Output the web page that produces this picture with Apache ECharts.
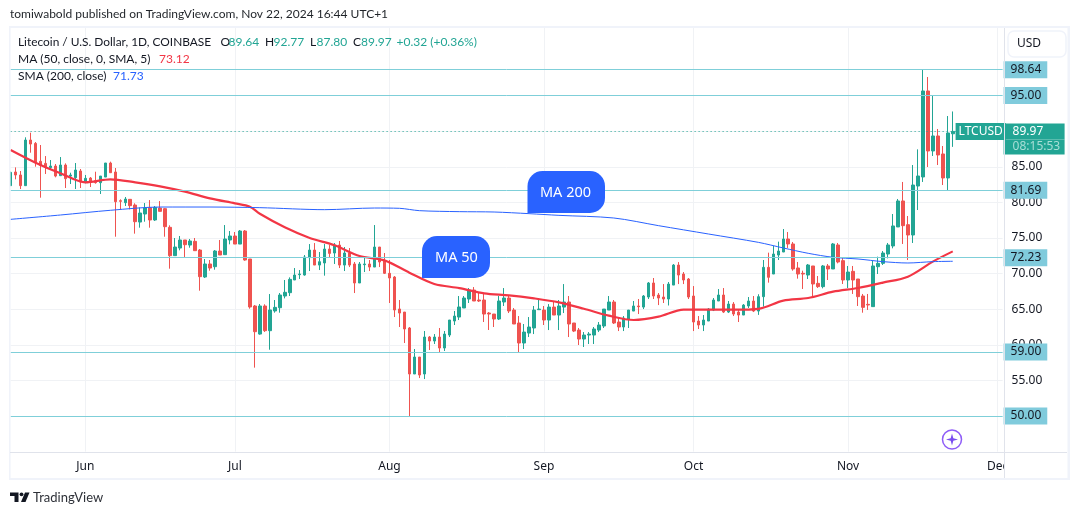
<!DOCTYPE html>
<html>
<head>
<meta charset="utf-8">
<title>LTCUSD</title>
<script src="https://cdn.jsdelivr.net/npm/echarts@6/dist/echarts.min.js"></script>
<style>
  html, body { margin: 0; padding: 0; background: #fff; }
  #chart { width: 1080px; height: 515px; }
</style>
</head>
<body>
<div id="chart"></div>
<script>
// daily candles, 17 May - 22 Nov 2024
const opens = [
  82.35, 84.27, 83.85, 82.35, 88.76, 88.29, 85.77, 85.48, 84.88, 85.11,
  83.75, 85.25, 83.7, 83.47, 84.41, 82.91, 83.42, 83.05, 82.77, 83.56,
  85.53, 84.27, 80.24, 79.96, 80.43, 79.63, 77.24, 78.37, 79.26, 77.53,
  79.21, 79.12, 76.5, 72.52, 73.59, 74.72, 74.01, 74.53, 73.31, 69.52,
  71.35, 70.97, 73.17, 72.66, 74.72, 75.28, 74.15, 75.98, 72.05, 65.45,
  61.51, 65.45, 61.98, 64.75, 65.21, 66.85, 67.32, 69.1, 69.85, 69.8,
  72.24, 73.31, 71.2, 71.49, 73.45, 72.89, 74.01, 71.2, 72.89, 71.35,
  68.68, 71.25, 71.35, 70.92, 73.73, 71.77, 70.04, 69.52, 65.03, 64.6,
  62.36, 55.9, 58.28, 55.9, 61.09, 60.53, 61.09, 59.55, 61.37, 63.34,
  63.9, 65.17, 66.43, 67.69, 66.29, 66.29, 64.46, 64.32, 63.62, 66.01,
  66.57, 64.88, 63.06, 60.25, 61.65, 62.36, 64.93, 64.88, 63.48, 65.3,
  64.18, 65.3, 66.01, 63.06, 62.07, 60.81, 61.37, 61.37, 62.07, 62.64,
  64.88, 66.01, 63.2, 62.5, 63.62, 64.74, 65.45, 65.3, 66.71, 68.68,
  66.99, 66.71, 66.43, 68.39, 71.2, 69.94, 69.24, 66.85, 63.34, 62.78,
  63.34, 64.88, 66.15, 66.99, 64.6, 65.72, 64.6, 64.18, 65.45, 66.15,
  64.74, 66.76, 70.88, 69.94, 72.61, 73.03, 74.86, 74.16, 70.79, 70.04,
  69.8, 71.07, 68.63, 68.17, 71.07, 70.65, 74.02, 71.82, 69.1, 70.32,
  69.24, 66.85, 65.68, 65.36, 70.97, 71.44, 72.75, 73.88, 76.55, 80.2,
  76.87, 75.42, 82.3, 83.57, 95.65, 87.22, 89.33, 86.8, 83.43, 89.64
];
const highs = [
  84.31, 84.92, 84.41, 89.14, 89.79, 88.48, 88.06, 86.51, 85.95, 85.39,
  86.37, 85.48, 84.17, 85.53, 84.69, 83.85, 83.56, 84.31, 83.7, 85.53,
  85.72, 84.83, 80.43, 80.76, 80.43, 79.87, 79.3, 79.91, 80.33, 79.49,
  80.19, 79.21, 76.78, 75, 75.28, 74.72, 74.86, 75, 73.45, 72.05,
  71.91, 73.31, 74.72, 76.82, 75.98, 75.84, 76.12, 76.12, 72.05, 65.59,
  65.73, 65.69, 67.13, 66.29, 67.27, 69.1, 69.47, 70.78, 70.5, 72.61,
  74.15, 74.29, 73.03, 74.15, 74.01, 74.29, 74.58, 73.73, 73.59, 71.63,
  71.63, 72.33, 71.91, 76.82, 73.73, 72.89, 71.91, 69.66, 66.29, 64.6,
  62.5, 59.41, 58.28, 61.94, 61.23, 61.51, 62.36, 61.94, 63.48, 64.75,
  66.85, 66.85, 67.97, 68.11, 67.41, 67.13, 64.6, 64.32, 66.85, 67.97,
  66.99, 65.16, 64.04, 62.92, 63.9, 65.45, 66.57, 65.45, 65.72, 66.15,
  66.29, 68.53, 66.85, 63.06, 62.36, 61.79, 61.79, 62.5, 63.2, 65.02,
  66.85, 66.29, 63.76, 64.04, 64.88, 66.15, 66.43, 66.99, 68.82, 69.38,
  67.27, 68.53, 68.82, 71.34, 71.62, 70.22, 69.38, 68.25, 64.04, 64.18,
  65.16, 66.57, 67.83, 67.97, 66.15, 66, 64.88, 65.72, 66.71, 66.85,
  67.1, 71.91, 72.94, 73.88, 74.49, 76.26, 75.84, 74.44, 71.63, 70.41,
  71.35, 71.07, 69.66, 71.21, 71.35, 74.3, 74.3, 72.2, 71.07, 71.07,
  69.24, 67.14, 67.14, 71.77, 72.38, 73.17, 74.3, 78.37, 80.48, 82.87,
  78.09, 85.25, 87.45, 98.6, 97.61, 94.94, 90.31, 87.92, 92.13, 92.77
];
const lows = [
  82.35, 83.24, 81.88, 82.35, 86.98, 85.02, 80.66, 83.99, 84.55, 83.52,
  83.75, 82.02, 82.58, 81.88, 82.02, 82.68, 82.16, 82.63, 81.18, 83.56,
  84.17, 75.18, 79.02, 79.49, 79.02, 75.61, 76.45, 77.29, 76.45, 77.39,
  78.74, 75.18, 70.69, 72.52, 73.27, 72.19, 73.64, 73.22, 67.6, 69.38,
  70.41, 70.55, 72.61, 72.66, 74.11, 74.15, 74.15, 71.81, 65.07, 56.79,
  61.42, 61.8, 59.31, 64.51, 64.51, 66.52, 66.85, 69.1, 69.24, 69.71,
  70.36, 71.2, 70.5, 69.71, 72.33, 71.35, 70.78, 70.36, 70.92, 67.27,
  68.68, 70.22, 70.36, 70.92, 70.92, 69.94, 65.87, 63.9, 62.5, 60.25,
  49.9, 55.9, 55.33, 55.19, 59.27, 60.11, 58.85, 59.13, 61.09, 62.78,
  63.48, 65.17, 65.87, 66.15, 66.01, 63.2, 62.08, 62.5, 63.48, 65.45,
  64.46, 62.92, 58.98, 59.41, 61.09, 61.51, 64.93, 62.78, 62.07, 64.18,
  62.07, 64.46, 61.09, 61.79, 59.97, 59.69, 60.11, 60.11, 61.79, 62.36,
  64.88, 62.92, 61.93, 61.93, 62.36, 64.74, 64.32, 65.02, 66.43, 66.43,
  65.58, 65.87, 65.52, 68.39, 68.53, 68.53, 66.43, 61.93, 62.22, 61.93,
  63.34, 64.74, 66.15, 64.46, 64.46, 64.04, 63.2, 64.18, 65.16, 64.6,
  64.2, 65.36, 68.73, 69.94, 71.91, 73.03, 73.6, 70.41, 69.29, 67.84,
  69.24, 66.57, 67.98, 67.93, 69.1, 70.65, 71.44, 68.54, 67.98, 67.14,
  65.45, 64.51, 64.89, 65.36, 69.94, 71.21, 72.14, 73.55, 76.55, 74.16,
  71.91, 74.3, 78.93, 82.87, 84.97, 86.52, 85.25, 82.44, 81.74, 87.8
];
const closes = [
  84.22, 83.85, 82.35, 88.76, 88.2, 85.58, 85.2, 84.92, 85.11, 83.7,
  85.25, 83.33, 83.85, 84.55, 82.86, 83.38, 82.82, 82.77, 83.7, 85.53,
  84.17, 80.1, 80.15, 80.47, 79.54, 77.29, 78.51, 79.21, 77.53, 79.3,
  78.74, 76.59, 72.52, 73.73, 74.72, 74.06, 74.58, 73.22, 69.57, 71.35,
  70.78, 73.17, 72.61, 74.86, 75.28, 74.15, 75.98, 71.91, 65.31, 61.84,
  65.45, 61.98, 64.89, 65.26, 66.99, 67.37, 69.19, 69.8, 69.94, 72.33,
  73.31, 71.2, 71.67, 73.45, 72.84, 74.01, 71.2, 72.89, 71.2, 68.68,
  71.35, 71.35, 70.92, 73.73, 71.63, 70.04, 69.38, 64.89, 64.46, 62.22,
  55.9, 58.28, 55.76, 61.09, 60.53, 61.09, 59.55, 61.51, 63.48, 64.04,
  65.31, 66.57, 67.69, 66.15, 66.15, 64.32, 64.32, 63.62, 66.15, 66.57,
  64.75, 62.92, 60.25, 61.79, 62.5, 64.88, 65.02, 63.48, 65.3, 64.18,
  65.45, 66.01, 62.92, 61.93, 60.81, 61.37, 61.51, 62.22, 62.78, 65.02,
  66.01, 63.06, 62.5, 63.76, 64.88, 65.45, 65.35, 66.85, 68.68, 66.85,
  66.57, 66.43, 68.53, 71.2, 69.8, 69.1, 66.71, 63.2, 62.78, 63.48,
  65.02, 66.29, 66.99, 64.6, 65.72, 64.32, 64.18, 65.58, 66.15, 64.74,
  66.76, 70.88, 69.48, 72.75, 73.17, 74.86, 74.16, 70.65, 69.94, 69.94,
  71.21, 68.54, 68.17, 71.07, 70.65, 74.16, 71.63, 69.1, 70.22, 69.1,
  66.76, 65.26, 65.59, 71.07, 71.44, 72.89, 74.02, 76.69, 80.2, 76.73,
  75.42, 82.44, 83.71, 95.65, 87.22, 89.33, 86.66, 83.43, 89.75, 89.97
];

// moving averages, read at the day numbers below (0 = 17 May)
const ma50Days = [0, 5, 10, 15, 20, 25, 30, 35, 40, 45, 48, 50, 55, 60, 65, 70, 75, 80, 85, 90, 95, 100,
  105, 110, 115, 120, 125, 130, 135, 140, 145, 150, 155, 160, 165, 170, 175, 180, 185, 189];
const ma50Values = [87.36, 85.58, 84.08, 82.82, 83.24, 82.82, 82.26, 81.51, 80.57, 79.87, 79.4, 78.4, 76.5, 75, 73.97, 72.47, 71.86, 70.13, 68.54, 67.97, 67.23, 66.95,
  66.52, 65.96, 65.07, 64.09, 63.48, 63.95, 64.93, 64.93, 64.93, 65.05, 66.2, 66.57, 67.46, 67.98, 68.73, 69.57, 71.68, 73.12];
const ma200Days = [0, 10, 20, 30, 40, 50, 63, 73, 78, 82, 90, 97, 104, 110, 121, 130, 140, 150, 155, 160, 165, 170, 175, 180, 185, 189];
const ma200Values = [77.62, 78.23, 78.89, 79.35, 79.35, 79.26, 78.98, 79.21, 79.17, 78.84, 78.7, 78.65, 78.42, 78.18, 77.81, 76.73, 75.56, 74.39, 73.6, 72.85, 72.29, 72.05, 71.68, 71.49, 71.68, 71.73];

// drawn horizontal levels
const levels = [98.64, 95, 81.69, 72.23, 59, 50];
const lastPrice = 89.97;
const countdown = "08:15:53";
const monthLabels = { "2024-06-01": "Jun", "2024-07-01": "Jul", "2024-08-01": "Aug", "2024-09-01": "Sep", "2024-10-01": "Oct", "2024-11-01": "Nov", "2024-12-01": "Dec" };
const hiddenPriceTicks = [45, 90, 95, 100, 105];

const GREEN = "#22a594";
const RED = "#ef5350";
const LEVEL = "#7fcfd9";
const TAG = "#80cbdc";
const BLUE = "#2962ff";
const TEXT = "#131722";
const FONT = "'Noto Sans', sans-serif";
const LEGEND_FONT = "Lato, sans-serif";

// one category per day
const categories = [];
for (let d = new Date(Date.UTC(2024, 4, 17)); d <= new Date(Date.UTC(2024, 11, 2)); d.setUTCDate(d.getUTCDate() + 1)) {
  categories.push(d.toISOString().slice(0, 10));
}

const candles = opens.map((o, i) => [o, closes[i], lows[i], highs[i]]);
const isMonth = (index) => monthLabels[categories[index]] !== undefined;

const levelLines = levels.map(v => ({
  yAxis: v,
  lineStyle: { color: LEVEL, width: 1, type: "solid" },
  label: {
    show: true, position: "end", distance: 1, formatter: v.toFixed(2),
    backgroundColor: TAG, color: TEXT, fontFamily: FONT, fontSize: 12,
    padding: [2, 6, 0, 7], lineHeight: 15
  }
}));

// text helper for header, legend and footer
const txt = (x, y, text, fill, size, extra) => ({
  type: "text", x, y, z: 120,
  style: Object.assign({ text, fill: fill || TEXT, font: (size || 12) + "px " + LEGEND_FONT, textVerticalAlign: "middle" }, extra)
});
const box = (x, y, width, height, fill, z) => ({
  type: "rect", z: z || 100, silent: true, shape: { x, y, width, height }, style: { fill }
});

const chart = echarts.init(document.getElementById("chart"));
chart.setOption({
  animation: false,
  backgroundColor: "#fff",
  grid: { left: 10.6, right: 77.4, top: 24.4, bottom: 63.4 },
  xAxis: {
    type: "category",
    data: categories,
    boundaryGap: false,
    axisLine: { show: false },
    axisTick: { show: false },
    axisLabel: {
      interval: isMonth,
      formatter: v => monthLabels[v] || "",
      color: TEXT, fontFamily: FONT, fontSize: 12, margin: 9
    },
    splitLine: { show: true, interval: isMonth, lineStyle: { color: "#f0f2f5", width: 1 } }
  },
  yAxis: {
    type: "value",
    position: "right",
    min: 45,
    max: 105,
    interval: 5,
    axisLine: { show: false },
    axisTick: { show: false },
    axisLabel: {
      formatter: v => hiddenPriceTicks.includes(v) ? "" : v.toFixed(2),
      color: TEXT, fontFamily: FONT, fontSize: 12, margin: 9
    },
    splitLine: {
      show: true,
      lineStyle: {
        color: ["transparent", "#f0f2f5", "#f0f2f5", "#f0f2f5", "#f0f2f5", "#f0f2f5", "#f0f2f5", "#f0f2f5", "#f0f2f5", "#f0f2f5", "#f0f2f5", "transparent", "transparent"]
      }
    }
  },
  series: [
    {
      name: "LTCUSD",
      type: "candlestick",
      data: candles,
      barWidth: 3,
      itemStyle: { color: GREEN, color0: RED, borderColor: GREEN, borderColor0: RED, borderWidth: 1 },
      markLine: {
        silent: true,
        symbol: "none",
        animation: false,
        data: levelLines.concat([
          {
            yAxis: lastPrice,
            lineStyle: { color: GREEN, width: 1, type: [1, 3] },
            label: {
              show: true, position: "end", distance: -47, formatter: "LTCUSD",
              backgroundColor: GREEN, color: "#fff", fontFamily: FONT, fontSize: 12,
              padding: [1, 3, 1, 3], lineHeight: 15
            }
          },
          {
            yAxis: lastPrice,
            lineStyle: { color: "transparent", width: 0 },
            label: {
              show: true, position: "end", distance: 1,
              formatter: "{b| }\n{a|" + lastPrice.toFixed(2) + "}\n{c|" + countdown + "}",
              rich: {
                a: { backgroundColor: GREEN, color: "#fff", width: 52, height: 16, lineHeight: 16, padding: [0, 0, 0, 9], fontFamily: FONT, fontSize: 12 },
                b: { width: 61, height: 15, lineHeight: 15, fontSize: 1 },
                c: { backgroundColor: GREEN, color: "#a8ded6", width: 52, height: 15, lineHeight: 15, padding: [0, 0, 0, 9], fontFamily: FONT, fontSize: 12 }
              }
            }
          }
        ])
      }
    },
    {
      name: "MA 50",
      type: "line",
      data: ma50Days.map((d, i) => [categories[d], ma50Values[i]]),
      smooth: 0.3,
      showSymbol: false,
      lineStyle: { color: "#f23645", width: 2.2 }
    },
    {
      name: "MA 200",
      type: "line",
      data: ma200Days.map((d, i) => [categories[d], ma200Values[i]]),
      smooth: 0.3,
      showSymbol: false,
      lineStyle: { color: BLUE, width: 1 }
    }
  ],
  graphic: [
    // page chrome
    box(0, 0, 1080, 26, "#fff"),
    box(9, 26, 1061, 2, "#f0f3fa", 101),
    box(9, 26, 1.6, 454, "#f0f3fa", 101),
    box(1067.5, 26, 2.5, 454, "#f0f3fa", 101),
    box(9, 478, 1061, 2, "#f0f3fa", 101),
    box(1004, 453, 63, 25, "#fff"),
    box(10, 452, 1057, 1, "#e0e3eb", 101),
    box(1004, 28, 1, 450, "#e0e3eb", 101),
    { type: "rect", z: 110, shape: { x: 1008, y: 31, width: 58, height: 26, r: 6 }, style: { fill: "#fff", stroke: "#f0f3fa", lineWidth: 1.5 } },
    txt(1017, 44, "USD", TEXT, 12, { font: "12px " + FONT }),
    // header and legend
    txt(10, 14, "tomiwabold published on TradingView.com, Nov 22, 2024 16:44 UTC+1", "#1f2328", 12),
    txt(18, 42, "Litecoin / U.S. Dollar, 1D, COINBASE", TEXT, 11.9),
    txt(220.5, 42, "O"), txt(228.5, 42, "89.64", GREEN),
    txt(265, 42, "H"), txt(273.5, 42, "92.77", GREEN),
    txt(310, 42, "L"), txt(316.5, 42, "87.80", GREEN),
    txt(353, 42, "C"), txt(361, 42, "89.97", GREEN),
    txt(396.5, 42, "+0.32 (+0.36%)", GREEN),
    txt(18, 59, "MA (50, close, 0, SMA, 5)"), txt(159, 59, "73.12", "#f23645"),
    txt(18, 76, "SMA (200, close)"), txt(113, 76, "71.73", BLUE),
    // callouts
    { type: "rect", z: 105, shape: { x: 527.5, y: 171, width: 77.5, height: 42, r: [15, 15, 15, 0] }, style: { fill: BLUE } },
    txt(565.5, 192.5, "MA 200", "#fff", 14.5, { textAlign: "center", font: "14.5px " + FONT }),
    { type: "rect", z: 105, shape: { x: 422, y: 236, width: 68, height: 42, r: [15, 15, 15, 0] }, style: { fill: BLUE } },
    txt(456.5, 257.5, "MA 50", "#fff", 14.5, { textAlign: "center", font: "14.5px " + FONT }),
    // watermark button
    { type: "circle", z: 105, shape: { cx: 952, cy: 439.5, r: 9.5 }, style: { fill: "#fff", stroke: "#8e5cf7", lineWidth: 1.5 } },
    { type: "polygon", z: 106, shape: { points: [[952, 433.5], [953.3, 438.2], [958, 439.5], [953.3, 440.8], [952, 445.5], [950.7, 440.8], [946, 439.5], [950.7, 438.2]] }, style: { fill: "#7a4df0" } },
    // footer logo
    { type: "polygon", z: 110, shape: { points: [[10, 492.5], [18.5, 492.5], [18.5, 502], [14.5, 502], [14.5, 496], [10, 496]] }, style: { fill: "#131722" } },
    { type: "circle", z: 110, shape: { cx: 21.5, cy: 494.3, r: 1.9 }, style: { fill: "#131722" } },
    { type: "polygon", z: 110, shape: { points: [[25, 492.5], [29.5, 492.5], [25.5, 502], [21, 502]] }, style: { fill: "#131722" } },
    txt(33, 497.5, "TradingView", "#2e3138", 13)
  ]
});
</script>
</body>
</html>
